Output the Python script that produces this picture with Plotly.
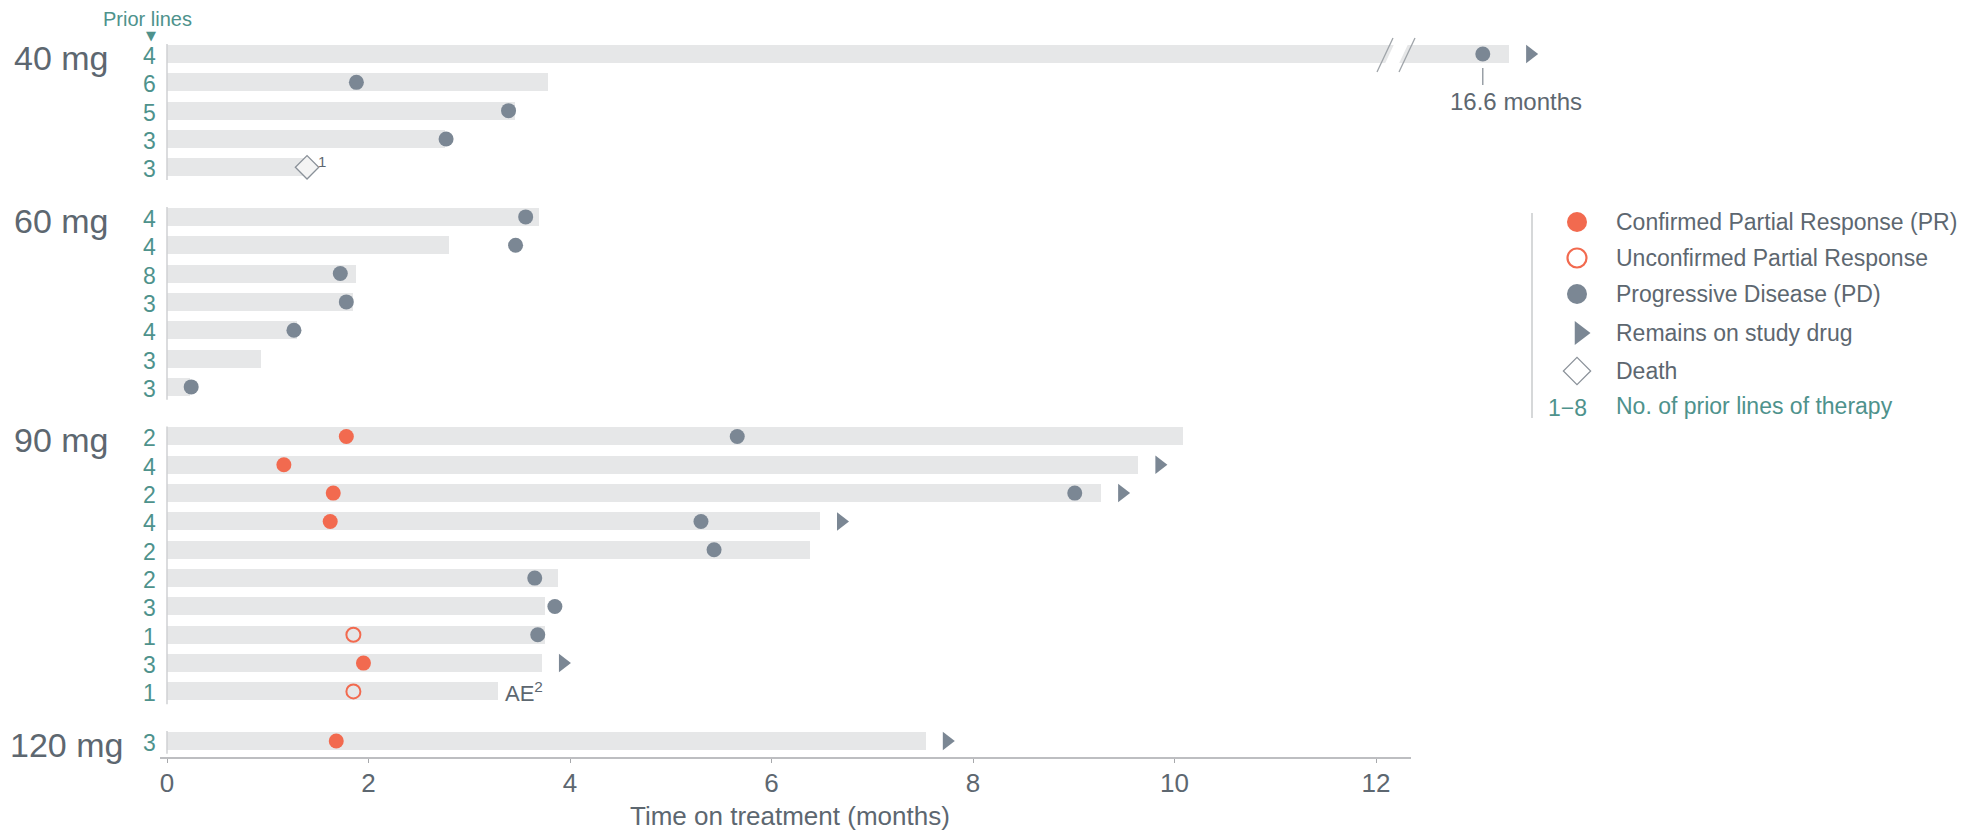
import plotly.graph_objects as go

# ---------------- data ----------------
dose_labels = ["40 mg", "60 mg", "90 mg", "120 mg"]
group_sizes = [5, 7, 10, 1]
prior_lines = [4, 6, 5, 3, 3,
               4, 4, 8, 3, 4, 3, 3,
               2, 4, 2, 4, 2, 2, 3, 1, 3, 1,
               3]
# time on treatment (months, displayed scale; first bar is broken)
duration = [13.32, 3.78, 3.45, 2.76, 1.41,
            3.69, 2.80, 1.88, 1.85, 1.29, 0.93, 0.23,
            10.08, 9.64, 9.27, 6.48, 6.38, 3.88, 3.75, 3.75, 3.72, 3.29,
            7.53]
pr_time = [None, None, None, None, None,
           None, None, None, None, None, None, None,
           1.78, 1.16, 1.65, 1.62, None, None, None, None, 1.95, None,
           1.68]
upr_time = [None, None, None, None, None,
            None, None, None, None, None, None, None,
            None, None, None, None, None, None, None, 1.85, None, 1.85,
            None]
pd_time = [13.06, 1.88, 3.39, 2.77, None,
           3.56, 3.46, 1.72, 1.78, 1.26, None, 0.24,
           5.66, None, 9.01, 5.30, 5.43, 3.65, 3.85, 3.68, None, None,
           None]
ongoing = [1, 0, 0, 0, 0,
           0, 0, 0, 0, 0, 0, 0,
           0, 1, 1, 1, 0, 0, 0, 0, 1, 0,
           1]
death_time = [None, None, None, None, 1.39] + [None] * 18
ae_row = 21
long_label = "16.6 months"
x_ticks = [0, 2, 4, 6, 8, 10, 12]

legend_items = ["Confirmed Partial Response (PR)", "Unconfirmed Partial Response",
                "Progressive Disease (PD)", "Remains on study drug", "Death",
                "No. of prior lines of therapy"]

# ---------------- style ----------------
FONT = "Liberation Sans, Arial, Helvetica, sans-serif"
BAR = "#e6e7e8"
GREY = "#7b8794"
ORANGE = "#f26a4f"
TEAL = "#4e928c"
TXT = "#5d6770"
AXIS = "#a7a9ac"

# page offset (body margin) compensation: reference pixel = figure pixel + 8
OFF = 8
W, H = 1970 - OFF, 832 - OFF
# plot area in reference pixels
PL, PR_, PT, PB = 160, 1960, 8, 758
ML, MR, MT, MB = PL - OFF, W - (PR_ - OFF), PT - OFF, H - (PB - OFF)
X0_PX, PX_PER_X = 167, 100.75
Y0_PX, PX_PER_ROW = 54, 28.33
GAP = 0.75
TRI_OFF = 0.21
DOSE_X_PX = [61, 61, 61, 66]


def xpx(px):
    return (px - X0_PX) / PX_PER_X


def ypx(py):
    return (py - Y0_PX) / PX_PER_ROW


def xp(px):
    return (px - PL) / (PR_ - PL)


def yp(py):
    return (PB - py) / (PB - PT)


# row positions
ypos = []
first_rows = []
last_rows = []
cur = 0.0
for gi, n in enumerate(group_sizes):
    first_rows.append(cur)
    for k in range(n):
        ypos.append(cur)
        cur += 1
    last_rows.append(cur - 1)
    cur += GAP

fig = go.Figure()

fig.add_trace(go.Bar(x=duration, y=ypos, orientation="h", base=0, width=0.635,
                     marker=dict(color=BAR, line=dict(width=0)),
                     hoverinfo="skip", showlegend=False))


def pts(vals):
    xs, ys = [], []
    for v, y in zip(vals, ypos):
        if v is not None:
            xs.append(v)
            ys.append(y)
    return xs, ys


annotations = []
shapes = []

# axis break on the first bar
bx1a, bx1b = xpx(1377), xpx(1393)
bx2a, bx2b = xpx(1399), xpx(1415)
yb_lo, yb_hi = ypx(72), ypx(38)
shapes.append(dict(type="path",
                   path=f"M {bx1a+0.04},{yb_lo} L {bx1b+0.04},{yb_hi} L {bx2b-0.04},{yb_hi} L {bx2a-0.04},{yb_lo} Z",
                   xref="x", yref="y", fillcolor="white", line=dict(width=0), layer="above"))
for a, b in [(bx1a, bx1b), (bx2a, bx2b)]:
    shapes.append(dict(type="line", x0=a, y0=yb_lo, x1=b, y1=yb_hi, xref="x", yref="y",
                       line=dict(color="#9ea3a8", width=1.3), layer="above"))

# markers
xs, ys = pts(pd_time)
fig.add_trace(go.Scatter(x=xs, y=ys, mode="markers", cliponaxis=False,
                         marker=dict(symbol="circle", size=15, color=GREY),
                         hoverinfo="skip", showlegend=False))
xs, ys = pts(pr_time)
fig.add_trace(go.Scatter(x=xs, y=ys, mode="markers", cliponaxis=False,
                         marker=dict(symbol="circle", size=15, color=ORANGE),
                         hoverinfo="skip", showlegend=False))
xs, ys = pts(upr_time)
fig.add_trace(go.Scatter(x=xs, y=ys, mode="markers", cliponaxis=False,
                         marker=dict(symbol="circle", size=14, color=BAR,
                                     line=dict(color=ORANGE, width=2)),
                         hoverinfo="skip", showlegend=False))
xs, ys = pts(death_time)
fig.add_trace(go.Scatter(x=xs, y=ys, mode="markers", cliponaxis=False,
                         marker=dict(symbol="diamond", size=18, color="#f4f4f4",
                                     line=dict(color="#8a9199", width=1.3)),
                         hoverinfo="skip", showlegend=False))
tx = [d + TRI_OFF for d, o in zip(duration, ongoing) if o]
ty = [y for y, o in zip(ypos, ongoing) if o]
fig.add_trace(go.Scatter(x=tx, y=ty, mode="markers", cliponaxis=False,
                         marker=dict(symbol="triangle-right", size=16, color=GREY),
                         hoverinfo="skip", showlegend=False))

# superscript next to death marker
for v, y in zip(death_time, ypos):
    if v is not None:
        annotations.append(dict(x=v + 0.09, y=y - 0.2, xref="x", yref="y", text="1",
                                showarrow=False, xanchor="left", yanchor="middle",
                                font=dict(size=15, color=TXT, family=FONT)))

# AE label
annotations.append(dict(x=duration[ae_row] + 0.04, y=ypos[ae_row] + 0.03, xref="x", yref="y",
                        text="AE<sup>2</sup>", showarrow=False, xanchor="left", yanchor="middle",
                        font=dict(size=22, color=TXT, family=FONT)))

# 16.6 months callout
shapes.append(dict(type="line", x0=pd_time[0], x1=pd_time[0], y0=ypx(68), y1=ypx(85),
                   xref="x", yref="y", line=dict(color="#8a9199", width=1.3)))
annotations.append(dict(x=xp(1516), y=yp(101), xref="paper", yref="paper", text=long_label,
                        showarrow=False, xanchor="center", yanchor="middle",
                        font=dict(size=24, color=TXT, family=FONT)))

# prior lines numbers & dose labels (left margin)
for pl, y in zip(prior_lines, ypos):
    py = Y0_PX + y * PX_PER_ROW
    annotations.append(dict(x=xp(149), y=yp(py + 2), xref="paper", yref="paper", text=str(pl),
                            showarrow=False, xanchor="center", yanchor="middle",
                            font=dict(size=23, color=TEAL, family=FONT)))
for lab, fr, dx in zip(dose_labels, first_rows, DOSE_X_PX):
    py = Y0_PX + fr * PX_PER_ROW
    annotations.append(dict(x=xp(dx), y=yp(py + 4), xref="paper", yref="paper", text=lab,
                            showarrow=False, xanchor="center", yanchor="middle",
                            font=dict(size=34, color=TXT, family=FONT)))

# group vertical lines
for fr, lr in zip(first_rows, last_rows):
    shapes.append(dict(type="line", x0=0, x1=0, y0=fr - 0.35, y1=lr + 0.45, xref="x", yref="y",
                       line=dict(color="#cfd1d3", width=1.5), layer="above"))

# "Prior lines" header
annotations.append(dict(x=xp(147), y=yp(19), xref="paper", yref="paper", text="Prior lines",
                        showarrow=False, xanchor="center", yanchor="middle",
                        font=dict(size=20, color=TEAL, family=FONT)))
annotations.append(dict(x=xp(151), y=yp(35), xref="paper", yref="paper", text="\u25BC",
                        showarrow=False, xanchor="center", yanchor="middle",
                        font=dict(size=13, color=TEAL, family="DejaVu Sans")))

# x axis line
shapes.append(dict(type="line", x0=xpx(156), x1=xpx(1411), y0=0, y1=0, xref="x", yref="paper",
                   line=dict(color=AXIS, width=1.5)))

# axis title
annotations.append(dict(x=xp(790), y=yp(816), xref="paper", yref="paper",
                        text="Time on treatment (months)", showarrow=False,
                        xanchor="center", yanchor="middle",
                        font=dict(size=26, color=TXT, family=FONT)))

# ---------------- legend (drawn manually) ----------------
leg_py = [222, 258, 294, 333, 371, 406]
leg_y = [ypx(p) for p in leg_py]
mx = xpx(1577)
fig.add_trace(go.Scatter(x=[mx], y=[leg_y[0]], mode="markers", cliponaxis=False,
                         marker=dict(symbol="circle", size=20, color=ORANGE),
                         hoverinfo="skip", showlegend=False))
fig.add_trace(go.Scatter(x=[mx], y=[leg_y[1]], mode="markers", cliponaxis=False,
                         marker=dict(symbol="circle", size=19, color="white",
                                     line=dict(color=ORANGE, width=2.2)),
                         hoverinfo="skip", showlegend=False))
fig.add_trace(go.Scatter(x=[mx], y=[leg_y[2]], mode="markers", cliponaxis=False,
                         marker=dict(symbol="circle", size=20, color=GREY),
                         hoverinfo="skip", showlegend=False))
fig.add_trace(go.Scatter(x=[mx + 0.03], y=[leg_y[3]], mode="markers", cliponaxis=False,
                         marker=dict(symbol="triangle-right", size=21, color=GREY),
                         hoverinfo="skip", showlegend=False))
fig.add_trace(go.Scatter(x=[mx], y=[leg_y[4]], mode="markers", cliponaxis=False,
                         marker=dict(symbol="diamond", size=21, color="white",
                                     line=dict(color="#8a9199", width=1.2)),
                         hoverinfo="skip", showlegend=False))
annotations.append(dict(x=xp(1567), y=yp(leg_py[5] + 2), xref="paper", yref="paper", text="1\u22128",
                        showarrow=False, xanchor="center", yanchor="middle",
                        font=dict(size=23, color=TEAL, family=FONT)))
for i, (lab, py) in enumerate(zip(legend_items, leg_py)):
    annotations.append(dict(x=xp(1614), y=yp(py), xref="paper", yref="paper", text=lab,
                            showarrow=False, xanchor="left", yanchor="middle",
                            font=dict(size=23, color=TEAL if i == 5 else TXT, family=FONT)))
shapes.append(dict(type="line", x0=xpx(1532), x1=xpx(1532), y0=ypx(213), y1=ypx(418),
                   xref="x", yref="y", line=dict(color="#c9cbcd", width=1.5)))

fig.update_layout(
    width=W, height=H,
    margin=dict(l=ML, r=MR, t=MT, b=MB, pad=0),
    plot_bgcolor="white", paper_bgcolor="white",
    font=dict(family=FONT, color=TXT),
    bargap=0,
    annotations=annotations,
    shapes=shapes,
    xaxis=dict(range=[xpx(PL), xpx(PR_)], tickvals=x_ticks, ticktext=[str(t) for t in x_ticks],
               showgrid=False, zeroline=False, showline=False,
               ticks="outside", ticklen=4, tickcolor=AXIS, tickwidth=1,
               ticklabelstandoff=-2,
               tickfont=dict(size=26, color=TXT, family=FONT),
               automargin=False, fixedrange=True),
    yaxis=dict(range=[ypx(PB), ypx(PT)], showgrid=False, zeroline=False, showline=False,
               showticklabels=False, ticks="", automargin=False, fixedrange=True),
)

fig.write_html("out.html")
